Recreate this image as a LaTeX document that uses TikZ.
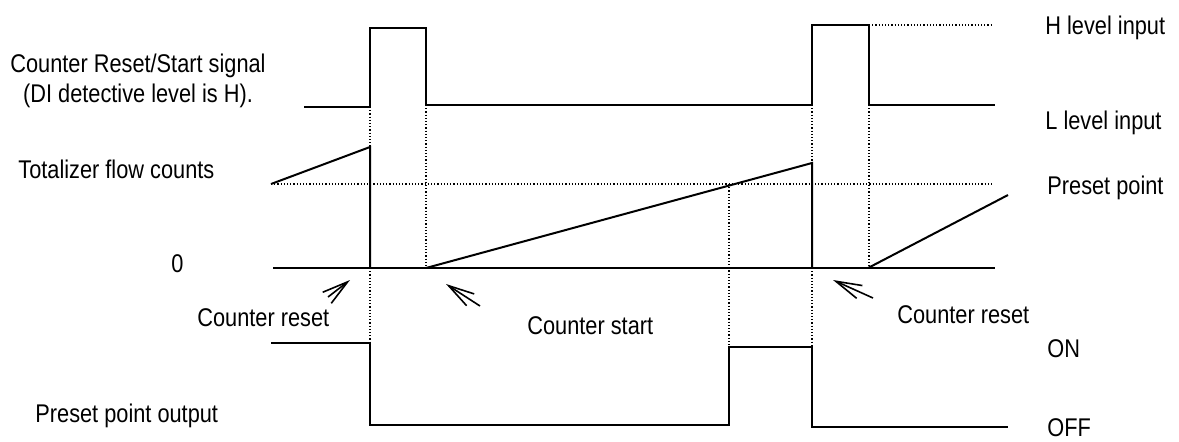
\documentclass[tikz,border=0pt]{standalone}
\usepackage{fontspec}
\setmainfont{Liberation Sans}[FakeStretch=0.85]
\usetikzlibrary{arrows.meta}
\begin{document}
\begin{tikzpicture}[x=0.5pt,y=-0.5pt,
  sig/.style={line width=1pt, line join=miter},
  dotline/.style={line width=0.6pt, dash pattern=on 0.6pt off 1pt},
  lbl/.style={anchor=base west, inner sep=0pt, font=\fontsize{12.8pt}{15pt}\selectfont},
  arr/.style={line width=0.8pt, -{Straight Barb[length=13pt,width=7pt]}}]
\useasboundingbox (0,0) rectangle (1179,441);
% texts
\node[anchor=base, inner sep=0pt, align=center, font=\fontsize{12.8pt}{15pt}\selectfont] (sigtxt) at (138,102) {Counter Reset/Start signal\\(DI detective level is H).};
\node[lbl] (tot) at (18,178) {Totalizer flow counts};
\node[lbl] (zero) at (171,272) {0};
\node[lbl] (cr1) at (197,326) {Counter reset};
\node[lbl] (cs) at (527,334) {Counter start};
\node[lbl] (cr2) at (897,323) {Counter reset};
\node[lbl] (hl) at (1045,34) {H level input};
\node[lbl] (ll) at (1045,129) {L level input};
\node[lbl] (pp) at (1047,194) {Preset point};
\node[lbl] (on) at (1047,357) {ON};
\node[lbl] (off) at (1047,436) {OFF};
\node[lbl] (ppo) at (35,422) {Preset point output};
% dotted guides
\draw[dotline] (869,25) -- (993,25);
\draw[dotline] (271,184) -- (993,184);
\draw[dotline] (370,107) -- (370,147);
\draw[dotline] (370,268) -- (370,343);
\draw[dotline] (426,105) -- (426,268);
\draw[dotline] (812,105) -- (812,163);
\draw[dotline] (812,268) -- (812,347);
\draw[dotline] (869,105) -- (869,268);
\draw[dotline] (729,184) -- (729,347);
% top signal
\draw[sig] (304,107) -- (370,107) -- (370,28) -- (426,28) -- (426,105) -- (812,105) -- (812,25) -- (869,25) -- (869,105) -- (995,105);
% totalizer
\draw[sig] (273,268) -- (995,268);
\draw[sig] (271,184) -- (370,147) -- (370,268);
\draw[sig] (426,268) -- (812,163) -- (812,268);
\draw[sig] (868,268) -- (1008,195);
% output
\draw[sig] (271,343) -- (370,343) -- (370,425) -- (729,425) -- (729,347) -- (812,347) -- (812,427) -- (1008,427);
% arrows
\coordinate (a1s) at (328,297); \coordinate (a1e) at (350,280);
\coordinate (a2s) at (480,306); \coordinate (a2e) at (446,284);
\coordinate (a3s) at (873,298); \coordinate (a3e) at (833,280);
\draw[arr] (a1s) -- (a1e);
\draw[arr] (a2s) -- (a2e);
\draw[arr] (a3s) -- (a3e);
\end{tikzpicture}
\end{document}
